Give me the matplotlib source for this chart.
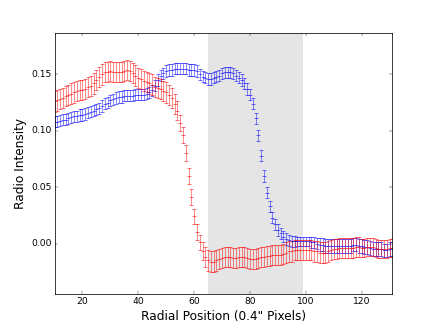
import matplotlib
matplotlib.use("Agg")
import matplotlib.pyplot as plt
import numpy as np

plt.style.use("classic")

x_pos = list(range(10, 132))

red_vals = [
    0.126, 0.127, 0.128, 0.129, 0.131, 0.132, 0.133, 0.134, 0.135, 0.136,  # 10-19
    0.136, 0.137, 0.139, 0.140, 0.142, 0.145, 0.148, 0.150, 0.152, 0.152,  # 20-29
    0.153, 0.152, 0.152, 0.152, 0.152, 0.153, 0.154, 0.153, 0.151, 0.149,  # 30-39
    0.147, 0.146, 0.144, 0.143, 0.142, 0.141, 0.139, 0.138, 0.137, 0.135,  # 40-49
    0.134, 0.132, 0.129, 0.124, 0.118, 0.107, 0.096, 0.080, 0.060, 0.041,  # 50-59
    0.024, 0.010, 0.001, -0.007, -0.012, -0.015, -0.016, -0.016, -0.015, -0.014,  # 60-69
    -0.013, -0.012, -0.012, -0.012, -0.013, -0.013, -0.012, -0.012, -0.012, -0.013,  # 70-79
    -0.014, -0.014, -0.014, -0.013, -0.012, -0.012, -0.011, -0.011, -0.010, -0.010,  # 80-89
    -0.010, -0.010, -0.009, -0.008, -0.007, -0.007, -0.006, -0.006, -0.006, -0.006,  # 90-99
    -0.006, -0.006, -0.006, -0.007, -0.007, -0.008, -0.008, -0.008, -0.007, -0.006,  # 100-109
    -0.005, -0.005, -0.004, -0.004, -0.004, -0.004, -0.004, -0.004, -0.003, -0.003,  # 110-119
    -0.004, -0.004, -0.003, -0.003, -0.003, -0.004, -0.005, -0.005, -0.005, -0.005,  # 120-129
    -0.004, -0.004,  # 130-131
]

red_err = [
    0.009, 0.009, 0.009, 0.009, 0.009, 0.009, 0.009, 0.009, 0.009, 0.009,
    0.009, 0.009, 0.009, 0.009, 0.009, 0.009, 0.009, 0.009, 0.009, 0.009,
    0.009, 0.009, 0.009, 0.009, 0.009, 0.009, 0.009, 0.009, 0.009, 0.009,
    0.009, 0.009, 0.009, 0.009, 0.009, 0.009, 0.009, 0.009, 0.009, 0.009,
    0.009, 0.009, 0.009, 0.009, 0.008, 0.007, 0.007, 0.007, 0.007, 0.007,
    0.007, 0.007, 0.007, 0.008, 0.009, 0.009, 0.009, 0.009, 0.009, 0.009,
    0.009, 0.009, 0.009, 0.009, 0.009, 0.009, 0.009, 0.009, 0.009, 0.009,
    0.009, 0.009, 0.009, 0.009, 0.009, 0.009, 0.009, 0.009, 0.009, 0.009,
    0.009, 0.009, 0.009, 0.009, 0.009, 0.009, 0.009, 0.009, 0.009, 0.009,
    0.009, 0.009, 0.009, 0.009, 0.009, 0.009, 0.009, 0.009, 0.009, 0.009,
    0.009, 0.009, 0.009, 0.009, 0.009, 0.009, 0.009, 0.009, 0.009, 0.009,
    0.008, 0.008, 0.008, 0.008, 0.008, 0.008, 0.008, 0.008, 0.008, 0.008,
    0.008, 0.008,
]

blue_vals = [
    0.108, 0.108, 0.109, 0.110, 0.110, 0.111, 0.112, 0.113, 0.113, 0.114,  # 10-19
    0.114, 0.115, 0.116, 0.117, 0.118, 0.119, 0.120, 0.122, 0.124, 0.125,  # 20-29
    0.127, 0.128, 0.129, 0.130, 0.130, 0.131, 0.131, 0.131, 0.131, 0.132,  # 30-39
    0.132, 0.132, 0.132, 0.133, 0.134, 0.136, 0.140, 0.145, 0.149, 0.151,  # 40-49
    0.153, 0.154, 0.154, 0.155, 0.155, 0.155, 0.155, 0.155, 0.154, 0.154,  # 50-59
    0.154, 0.153, 0.150, 0.148, 0.147, 0.146, 0.146, 0.147, 0.148, 0.149,  # 60-69
    0.151, 0.152, 0.152, 0.152, 0.151, 0.149, 0.147, 0.145, 0.142, 0.137,  # 70-79
    0.132, 0.124, 0.111, 0.096, 0.078, 0.060, 0.045, 0.033, 0.023, 0.017,  # 80-89
    0.012, 0.009, 0.006, 0.004, 0.003, 0.002, 0.002, 0.002, 0.002, 0.002,  # 90-99
    0.002, 0.002, 0.001, 0.001, 0.000, -0.001, -0.001, -0.002, -0.002, -0.002,  # 100-109
    -0.002, -0.002, -0.002, -0.002, -0.002, -0.002, -0.002, -0.001, -0.001, -0.002,  # 110-119
    -0.002, -0.003, -0.003, -0.004, -0.005, -0.005, -0.005, -0.005, -0.006, -0.006,  # 120-129
    -0.005, -0.005,  # 130-131
]

blue_err = [
    0.005, 0.005, 0.005, 0.005, 0.005, 0.005, 0.005, 0.005, 0.005, 0.005,
    0.005, 0.005, 0.005, 0.005, 0.005, 0.005, 0.005, 0.005, 0.005, 0.005,
    0.005, 0.005, 0.005, 0.005, 0.005, 0.005, 0.005, 0.005, 0.005, 0.005,
    0.005, 0.005, 0.005, 0.005, 0.005, 0.005, 0.005, 0.005, 0.005, 0.005,
    0.005, 0.005, 0.005, 0.005, 0.005, 0.005, 0.005, 0.005, 0.005, 0.005,
    0.005, 0.005, 0.005, 0.005, 0.005, 0.005, 0.005, 0.005, 0.005, 0.005,
    0.005, 0.005, 0.005, 0.005, 0.005, 0.005, 0.005, 0.005, 0.005, 0.005,
    0.005, 0.005, 0.005, 0.005, 0.005, 0.005, 0.005, 0.005, 0.005, 0.005,
    0.005, 0.005, 0.005, 0.005, 0.005, 0.005, 0.005, 0.004, 0.004, 0.004,
    0.004, 0.004, 0.005, 0.005, 0.005, 0.006, 0.006, 0.006, 0.006, 0.006,
    0.006, 0.006, 0.006, 0.006, 0.006, 0.006, 0.006, 0.006, 0.006, 0.006,
    0.006, 0.006, 0.006, 0.006, 0.006, 0.006, 0.006, 0.006, 0.006, 0.006,
    0.006, 0.006,
]

span_lo, span_hi = 65, 99
x_ticks = [20, 40, 60, 80, 100, 120]
y_ticks = [0.00, 0.05, 0.10, 0.15]

fig = plt.figure(figsize=(8, 6), dpi=54.5)
ax = fig.add_subplot(111)

ax.axvspan(span_lo, span_hi, color="gray", alpha=0.2, linewidth=0)

ax.errorbar(x_pos, blue_vals, yerr=blue_err, fmt="_", color="b", alpha=0.6,
            capsize=3, markersize=5, markeredgewidth=1.2, elinewidth=1.0)
ax.errorbar(x_pos, red_vals, yerr=red_err, fmt="_", color="r", alpha=0.6,
            capsize=3, markersize=5, markeredgewidth=1.2, elinewidth=1.0)

ax.set_xlim(10, 131)
ax.set_ylim(-0.045, 0.187)
ax.set_xticks(x_ticks)
ax.set_yticks(y_ticks)
ax.set_yticklabels(["%.2f" % v for v in y_ticks])
ax.set_xlabel("Radial Position (0.4\" Pixels)", fontsize=16)
ax.set_ylabel("Radio Intensity", fontsize=16)

fig.savefig("out.png", dpi=54.5)
